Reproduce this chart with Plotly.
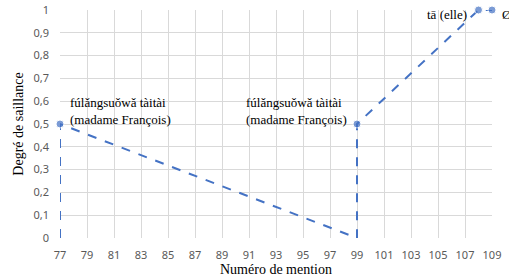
import plotly.graph_objects as go

mention = [77, 77, 99, 99, 108, 109]
saillance = [0, 0.5, 0, 0.5, 1, 1]
has_marker = [False, True, False, True, True, True]
x_ticks = list(range(77, 110, 2))
y_ticks = [0, 0.1, 0.2, 0.3, 0.4, 0.5, 0.6, 0.7, 0.8, 0.9, 1]
labels = [
    (77, 0.5, "fúlǎngsuǒwǎ tàitài<br>(madame François)", "left"),
    (99, 0.5, "fúlǎngsuǒwǎ tàitài<br>(madame François)", "right"),
    (108, 1, "tā (elle)", "right"),
    (109, 1, "Ø", "left"),
]

blue = "#4472C4"
fig = go.Figure()
fig.add_trace(go.Scatter(
    x=mention, y=saillance, mode="lines+markers",
    line=dict(color=blue, width=2, dash="dash"),
    marker=dict(color=blue, size=[8 if m else 0 for m in has_marker]),
    cliponaxis=False, showlegend=False,
))

for x, y, t, side in labels:
    if t.startswith("fú"):
        fig.add_annotation(x=x, y=y, text=t, showarrow=False, align="left",
                           xanchor="left" if side == "left" else "right",
                           yanchor="bottom", xshift=8 if side == "left" else -8, yshift=-5,
                           font=dict(family="Liberation Serif", size=13, color="#000"))
    else:
        fig.add_annotation(x=x, y=y, text=t, showarrow=False,
                           xanchor="left" if side == "left" else "right",
                           yanchor="middle", xshift=8 if side == "left" else -10, yshift=-4,
                           font=dict(family="Liberation Serif", size=13, color="#000"))

fig.update_layout(
    width=509, height=279,
    margin=dict(l=60, r=17, t=10, b=41, autoexpand=False),
    paper_bgcolor="white", plot_bgcolor="white",
    separators=", ",
    xaxis=dict(range=[77, 109], tickvals=x_ticks, showgrid=True, gridcolor="#D9D9D9",
               gridwidth=1, zeroline=False, showline=False, ticks="", automargin=False,
               ticklabelstandoff=9,
               tickfont=dict(family="Noto Sans", size=11, color="#595959"),
               title=dict(text="Numéro de mention", standoff=2,
                          font=dict(family="Liberation Serif", size=14, color="#000"))),
    yaxis=dict(range=[0, 1], tickvals=y_ticks, showgrid=True, gridcolor="#D9D9D9",
               gridwidth=1, zeroline=False, showline=False, ticks="", automargin=False,
               ticklabelstandoff=10,
               tickfont=dict(family="Noto Sans", size=11, color="#595959"),
               title=dict(text="Degré de saillance", standoff=6,
                          font=dict(family="Liberation Serif", size=14, color="#000"))),
)
fig.write_html("out.html", config={"displayModeBar": False},
               post_script="document.body.style.margin='0';")
